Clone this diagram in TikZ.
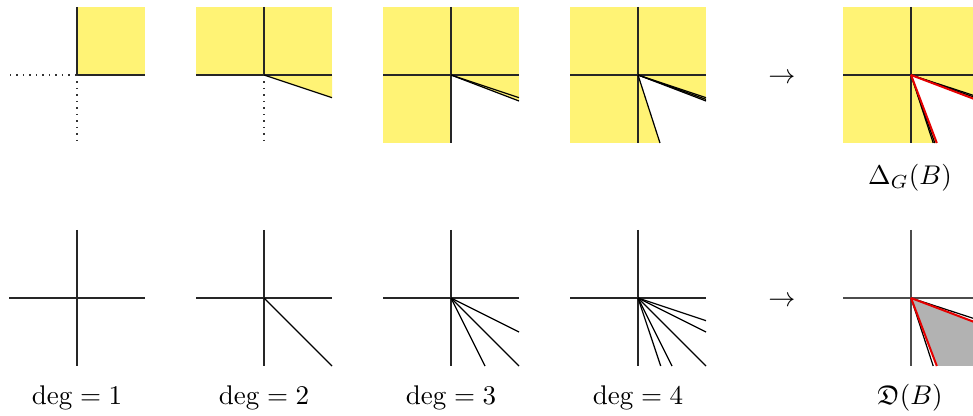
\documentclass[tikz,border=0pt]{standalone}
\usepackage{amssymb}
\definecolor{yelfill}{RGB}{255,243,117}
\begin{document}
\begin{tikzpicture}[x=0.37pt,y=-0.37pt,
  ax/.style={line width=0.45pt,black!85},
  dotln/.style={line width=0.5pt,dash pattern=on 0.5pt off 1.9pt,black!80},
  ray/.style={line width=0.45pt,black},
  redray/.style={line width=0.75pt,red!90!black},
  yel/.style={fill=yelfill},
  lbl/.style={inner sep=0pt,font=\normalsize}]
\clip (0,0) rectangle (973,416);
% ---------- top row ----------
\begin{scope}[shift={(77,75)}]
  \fill[yel] (0,-68) rectangle (68,0);
  \draw[ax] (0,-68) -- (0,0) -- (68,0);
  \draw[dotln] (-67,0) -- (0,0);
  \draw[dotln] (0,0) -- (0,67);
\end{scope}
\begin{scope}[shift={(264,75)}]
  \fill[yel] (-68,-68) rectangle (68,0);
  \fill[yel] (0,0) -- (68,0) -- (68,22.7) -- cycle;
  \draw[ax] (-68,0) -- (68,0);
  \draw[ax] (0,-68) -- (0,0);
  \draw[dotln] (0,0) -- (0,67);
  \draw[ray] (0,0) -- (68,22.7);
\end{scope}
\begin{scope}[shift={(451,75)}]
  \fill[yel] (-68,-68) rectangle (68,68);
  \fill[white] (0,0) -- (68,26) -- (68,68.5) -- (0,68.5) -- cycle;
  \draw[ax] (-68,0) -- (68,0);
  \draw[ax] (0,-68) -- (0,68);
  \draw[ray] (0,0) -- (68,22.7);
  \draw[ray] (0,0) -- (68,26);
\end{scope}
\begin{scope}[shift={(638,75)}]
  \fill[yel] (-68,-68) rectangle (68,68);
  \fill[white] (0,0) -- (68,26) -- (68,68.5) -- (22,68.5) -- cycle;
  \draw[ax] (-68,0) -- (68,0);
  \draw[ax] (0,-68) -- (0,68);
  \draw[ray] (0,0) -- (68,22.7);
  \draw[ray] (0,0) -- (68,24.4);
  \draw[ray] (0,0) -- (68,26);
  \draw[ray] (0,0) -- (22,68);
\end{scope}
\begin{scope}[shift={(911,75)}]
  \fill[yel] (-68,-68) rectangle (68,68);
  \fill[white] (0,0) -- (68,25.8) -- (68,68.5) -- (25.8,68.5) -- cycle;
  \draw[ax] (-68,0) -- (68,0);
  \draw[ax] (0,-68) -- (0,68);
  \draw[ray] (0,0) -- (68,22.2);
  \draw[ray] (0,0) -- (68,23.8);
  \draw[ray] (0,0) -- (22.2,68);
  \draw[ray] (0,0) -- (23.8,68);
  \draw[redray] (0,0) -- (68,25.8);
  \draw[redray] (0,0) -- (25.8,68);
\end{scope}
% ---------- bottom row ----------
\begin{scope}[shift={(77,298)}]
  \draw[ax] (-68,0) -- (68,0);
  \draw[ax] (0,-68) -- (0,68);
\end{scope}
\begin{scope}[shift={(264,298)}]
  \draw[ax] (-68,0) -- (68,0);
  \draw[ax] (0,-68) -- (0,68);
  \draw[ray] (0,0) -- (68,68);
\end{scope}
\begin{scope}[shift={(451,298)}]
  \draw[ax] (-68,0) -- (68,0);
  \draw[ax] (0,-68) -- (0,68);
  \draw[ray] (0,0) -- (68,34);
  \draw[ray] (0,0) -- (68,68);
  \draw[ray] (0,0) -- (34,68);
\end{scope}
\begin{scope}[shift={(638,298)}]
  \draw[ax] (-68,0) -- (68,0);
  \draw[ax] (0,-68) -- (0,68);
  \draw[ray] (0,0) -- (68,22.7);
  \draw[ray] (0,0) -- (68,34);
  \draw[ray] (0,0) -- (68,68);
  \draw[ray] (0,0) -- (34,68);
  \draw[ray] (0,0) -- (22.7,68);
\end{scope}
\begin{scope}[shift={(911,298)}]
  \fill[black!30] (0,0) -- (68,25.8) -- (68,68) -- (25.8,68) -- cycle;
  \draw[ax,black!70] (-68,0) -- (68,0);
  \draw[ax,black!70] (0,-68) -- (0,68);
  \draw[ray] (0,0) -- (68,22.2);
  \draw[ray] (0,0) -- (22.2,68);
  \draw[redray] (0,0) -- (68,25.8);
  \draw[redray] (0,0) -- (25.8,68);
\end{scope}
% ---------- labels ----------
\node[lbl] (arrtop) at (782,79) {$\rightarrow$};
\node[lbl] (arrbot) at (782,302) {$\rightarrow$};
\node[lbl] (deltag) at (910,178) {$\Delta_G(B)$};
\node[lbl] (d1) at (77,398) {$\deg = 1$};
\node[lbl] (d2) at (264,398) {$\deg = 2$};
\node[lbl] (d3) at (451,398) {$\deg = 3$};
\node[lbl] (d4) at (638,398) {$\deg = 4$};
\node[lbl] (frakd) at (910,398) {$\mathfrak{D}(B)$};
\end{tikzpicture}
\end{document}
